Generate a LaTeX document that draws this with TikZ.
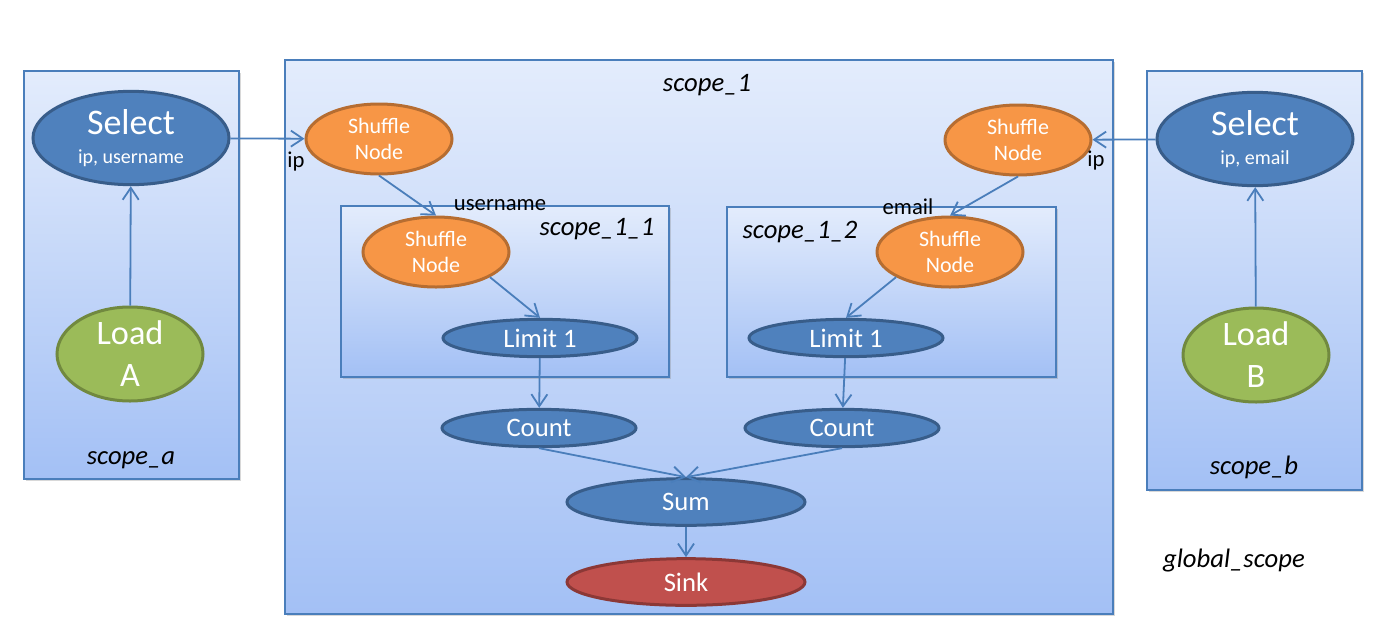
\documentclass[tikz,border=0pt]{standalone}
\usepackage{fontspec}
\setmainfont{Carlito}
\usetikzlibrary{positioning}
\usetikzlibrary{shapes.geometric}
\usetikzlibrary{arrows.meta}
\usetikzlibrary{shadows}
\definecolor{BLUE}{HTML}{4F81BD}
\definecolor{BLUE_D}{HTML}{385D8A}
\definecolor{ORANGE}{HTML}{F79646}
\definecolor{ORANGE_D}{HTML}{B66D31}
\definecolor{GREEN}{HTML}{9BBB59}
\definecolor{GREEN_D}{HTML}{71893F}
\definecolor{RED}{HTML}{C0504D}
\definecolor{RED_D}{HTML}{8C3836}
\definecolor{LINE}{HTML}{4A7EBB}
\definecolor{BOX_T}{HTML}{E3ECFC}
\definecolor{BOX_B}{HTML}{A3C0F5}
\tikzset{
	every node/.style = {font=\fontsize{20}{24}\selectfont},
	scopebox/.style = {draw=LINE, line width=1pt, top color=BOX_T, bottom color=BOX_B,
		drop shadow={shadow xshift=1.5pt, shadow yshift=-1.5pt, opacity=0.3}},
	scopename/.style = {font=\fontsize{20}{24}\selectfont\itshape},
	edgelbl/.style = {font=\fontsize{17}{20}\selectfont},
	op/.style = {ellipse, draw=BLUE_D, fill=BLUE, line width=2.25pt, text=white, inner sep=0pt, align=center},
	sel/.style = {op, minimum width=147pt, minimum height=70pt, font=\fontsize{27}{22}\selectfont},
	small/.style = {op, minimum width=145.5pt, minimum height=28pt},
	big/.style = {op, minimum width=178.5pt, minimum height=35pt},
	shuffle/.style = {op, draw=ORANGE_D, fill=ORANGE, minimum width=109.5pt, minimum height=52.5pt,
		font=\fontsize{16.5}{19.5}\selectfont},
	load/.style = {op, draw=GREEN_D, fill=GREEN, minimum width=109.5pt, minimum height=70.5pt,
		font=\fontsize{25.7}{31.5}\selectfont},
	sink/.style = {big, draw=RED_D, fill=RED},
	flow/.style = {draw=LINE, line width=1.35pt, -{Straight Barb[length=9pt, width=12pt]}}
}
\begin{document}
\begin{tikzpicture}[x=0.75pt, y=-0.75pt]
		% outline
		\fill[white] (0,0) rectangle (1393,640);
		\useasboundingbox (0,0) rectangle (1393,640);
		\draw[scopebox] (24,71) rectangle (239,479);
		\draw[scopebox] (285,60) rectangle (1113,614);
		\draw[scopebox] (1147,71) rectangle (1362,490);
		\draw[scopebox] (341,206) rectangle (669,377);
		\draw[scopebox] (727,207) rectangle (1056,377);
		% scope names
		\node[scopename] (na) at (131,460) {scope\_a};
		\node[scopename] (nb) at (1254,467) {scope\_b};
		\node[scopename] (n1) at (707,85) {scope\_1};
		\node[scopename] (n11) at (597,229) {scope\_1\_1};
		\node[scopename] (n12) at (800,232) {scope\_1\_2};
		\node[scopename] (ng) at (1234,561) {global\_scope};
		% scope a
		\node[load] (loadA) at (130,354) {Load\\A};
		\node[sel] (selA) at (131,138) {Select\\{\fontsize{15}{22}\selectfont ip, username}};
		% scope b
		\node[load] (loadB) at (1256,355) {Load\\B};
		\node[sel] (selB) at (1255,139) {Select\\{\fontsize{15}{22}\selectfont ip, email}};
		% scope 1
		\node[shuffle] (shufA) at (379,139) {Shuffle\\Node};
		\node[shuffle] (shufB) at (1018,140) {Shuffle\\Node};
		\node[shuffle] (shufA1) at (436,252) {Shuffle\\Node};
		\node[shuffle] (shufB1) at (950,252) {Shuffle\\Node};
		\node[small] (limA) at (540,338) {Limit 1};
		\node[small] (limB) at (846,338) {Limit 1};
		\node[small] (cntA) at (539,428) {Count};
		\node[small] (cntB) at (842,428) {Count};
		\node[big] (sum) at (686,502) {Sum};
		\node[sink] (sink) at (686,582) {Sink};
		% keys
		\node[edgelbl] (ipA) at (296,162) {ip};
		\node[edgelbl] (ipB) at (1096,161) {ip};
		\node[edgelbl] (user) at (500,205) {username};
		\node[edgelbl] (mail) at (908,207) {email};
		% flows
		\draw[flow] (loadA) -- (selA);
		\draw[flow] (selA) -- (shufA);
		\draw[flow] (loadB) -- (selB);
		\draw[flow] (selB) -- (shufB);
		\draw[flow] (shufA.south) -- (shufA1.north);
		\draw[flow] (shufB.south) -- (shufB1.north);
		\draw[flow] (shufA1.-25) -- (limA.north);
		\draw[flow] (shufB1.205) -- (limB.north);
		\draw[flow] (limA) -- (cntA);
		\draw[flow] (limB) -- (cntB);
		\draw[flow] (cntA.south) -- (sum.north);
		\draw[flow] (cntB.south) -- (sum.north);
		\draw[flow] (sum) -- (sink);
	\end{tikzpicture}
\end{document}
